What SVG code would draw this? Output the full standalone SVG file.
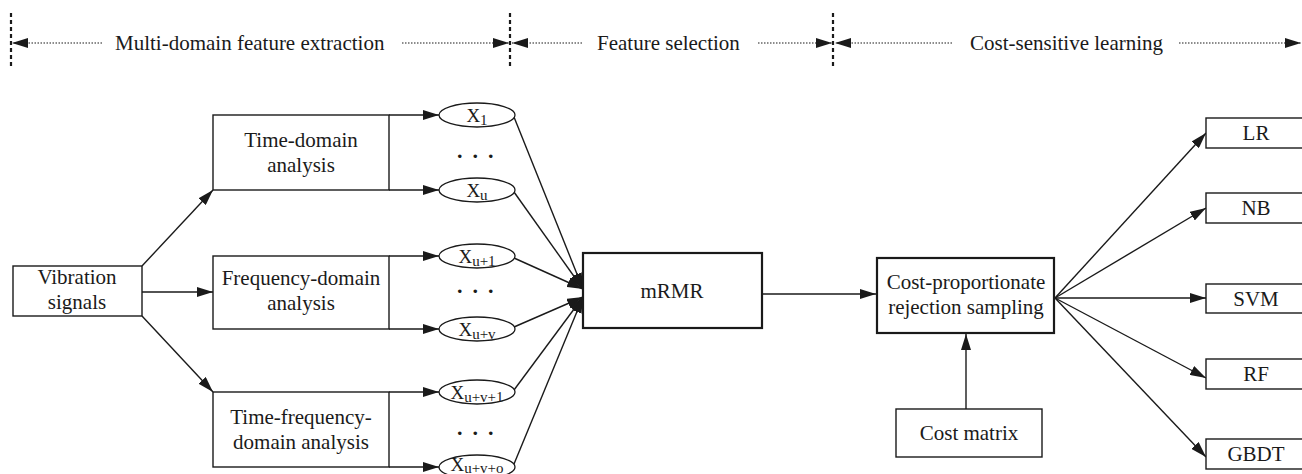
<svg xmlns="http://www.w3.org/2000/svg" width="1302" height="474" viewBox="0 0 1302 474">
<defs>
<marker id="arr" markerUnits="userSpaceOnUse" markerWidth="16" markerHeight="10" viewBox="0 0 16 10" refX="16" refY="5" orient="auto"><path d="M0,0 L16,5 L0,10 z" fill="#1a1a1a"/></marker>
<style>
text{font-family:"Liberation Serif","DejaVu Serif",serif;fill:#1a1a1a;font-size:21px}
.c{text-anchor:middle}
.box{fill:#fff;stroke:#1a1a1a;stroke-width:1.4}
.bold{fill:#fff;stroke:#1a1a1a;stroke-width:2.2}
.ell{fill:#fff;stroke:#1a1a1a;stroke-width:1.3}
.arrow{stroke:#1a1a1a;stroke-width:1.4;fill:none;marker-end:url(#arr)}
.dot{stroke:#1a1a1a;stroke-width:1.2;stroke-dasharray:1.5 1.5;fill:none;marker-end:url(#arr)}
.dash{stroke:#1a1a1a;stroke-width:2.2;stroke-dasharray:4 3;fill:none}
.x{font-size:19px}
.sub{font-size:15px}
.dots{font-size:22px;font-weight:bold;letter-spacing:10px}
</style>
</defs>

<g id="header">
<line class="dash" x1="11" y1="13" x2="11" y2="67"/>
<line class="dash" x1="510" y1="13" x2="510" y2="67"/>
<line class="dash" x1="833" y1="13" x2="833" y2="67"/>
<line class="dot" x1="102" y1="43" x2="12" y2="43"/>
<text x="115" y="50">Multi-domain feature extraction</text>
<line class="dot" x1="402" y1="43" x2="509" y2="43"/>
<line class="dot" x1="582" y1="43" x2="512" y2="43"/>
<text x="597" y="50">Feature selection</text>
<line class="dot" x1="758" y1="43" x2="832" y2="43"/>
<line class="dot" x1="952" y1="43" x2="835" y2="43"/>
<text x="970" y="50">Cost-sensitive learning</text>
<line class="dot" x1="1179" y1="43" x2="1301" y2="43"/>
</g>

<g id="connectors">
<line class="arrow" x1="142" y1="266" x2="213" y2="190"/>
<line class="arrow" x1="142" y1="292" x2="213" y2="292"/>
<line class="arrow" x1="142" y1="316" x2="213" y2="392"/>
<line class="arrow" x1="389" y1="115" x2="439" y2="115"/>
<line class="arrow" x1="389" y1="190" x2="439" y2="190"/>
<line class="arrow" x1="389" y1="256" x2="439" y2="256"/>
<line class="arrow" x1="389" y1="329" x2="439" y2="329"/>
<line class="arrow" x1="389" y1="392" x2="439" y2="392"/>
<line class="arrow" x1="389" y1="467" x2="439" y2="467"/>
<line class="arrow" x1="514" y1="117" x2="583" y2="289"/>
<line class="arrow" x1="514" y1="192" x2="583" y2="289"/>
<line class="arrow" x1="514" y1="258" x2="583" y2="289"/>
<line class="arrow" x1="514" y1="327" x2="583" y2="297"/>
<line class="arrow" x1="514" y1="390" x2="583" y2="297"/>
<line class="arrow" x1="514" y1="464" x2="583" y2="297"/>
<line class="arrow" x1="762" y1="294" x2="876" y2="294"/>
<line class="arrow" x1="966" y1="409" x2="966" y2="334"/>
<line class="arrow" x1="1055" y1="298" x2="1206" y2="133"/>
<line class="arrow" x1="1055" y1="298" x2="1206" y2="208"/>
<line class="arrow" x1="1055" y1="298" x2="1206" y2="298"/>
<line class="arrow" x1="1055" y1="298" x2="1206" y2="378"/>
<line class="arrow" x1="1055" y1="298" x2="1206" y2="457"/>
</g>

<g id="vibration">
<rect class="box" x="13" y="266" width="129" height="50"/>
<text class="c" x="77" y="284">Vibration</text>
<text class="c" x="77" y="309">signals</text>
</g>

<g id="time-domain">
<rect class="box" x="213" y="115" width="176" height="75"/>
<text class="c" x="301" y="147">Time-domain</text>
<text class="c" x="301" y="172">analysis</text>
</g>

<g id="frequency-domain">
<rect class="box" x="213" y="256" width="176" height="73"/>
<text class="c" x="301" y="285">Frequency-domain</text>
<text class="c" x="301" y="310">analysis</text>
</g>

<g id="time-frequency-domain">
<rect class="box" x="213" y="392" width="176" height="75"/>
<text class="c" x="301" y="424">Time-frequency-</text>
<text class="c" x="301" y="449">domain analysis</text>
</g>

<g id="x1">
<ellipse class="ell" cx="477" cy="115" rx="38" ry="12"/>
<text class="c x" x="477" y="122">X<tspan class="sub" dy="3">1</tspan></text>
</g>
<g id="dots1"><text class="dots" x="457" y="158">...</text></g>
<g id="xu">
<ellipse class="ell" cx="477" cy="190" rx="38" ry="12"/>
<text class="c x" x="477" y="197">X<tspan class="sub" dy="3">u</tspan></text>
</g>
<g id="xu1">
<ellipse class="ell" cx="477" cy="256" rx="38" ry="12"/>
<text class="c x" x="477" y="263">X<tspan class="sub" dy="3">u+1</tspan></text>
</g>
<g id="dots2"><text class="dots" x="457" y="293">...</text></g>
<g id="xuv">
<ellipse class="ell" cx="477" cy="329" rx="38" ry="12"/>
<text class="c x" x="477" y="336">X<tspan class="sub" dy="3">u+v</tspan></text>
</g>
<g id="xuv1">
<ellipse class="ell" cx="477" cy="392" rx="38" ry="12"/>
<text class="c x" x="477" y="399">X<tspan class="sub" dy="3">u+v+1</tspan></text>
</g>
<g id="dots3"><text class="dots" x="457" y="435">...</text></g>
<g id="xuvo">
<ellipse class="ell" cx="477" cy="467" rx="38" ry="12"/>
<text class="c x" x="477" y="471">X<tspan class="sub" dy="2">u+v+o</tspan></text>
</g>

<g id="mrmr">
<rect class="bold" x="583" y="253" width="179" height="75"/>
<text class="c" x="672" y="298">mRMR</text>
</g>

<g id="cost-sampling">
<rect class="bold" x="877" y="258" width="177" height="75"/>
<text class="c" x="966" y="289">Cost-proportionate</text>
<text class="c" x="966" y="314">rejection sampling</text>
</g>

<g id="cost-matrix">
<rect class="box" x="896" y="409" width="146" height="48"/>
<text class="c" x="969" y="440">Cost matrix</text>
</g>

<g id="lr"><rect class="box" x="1206" y="118" width="110" height="30"/><text class="c" x="1256" y="140">LR</text></g>
<g id="nb"><rect class="box" x="1206" y="193" width="110" height="30"/><text class="c" x="1256" y="215">NB</text></g>
<g id="svm"><rect class="box" x="1206" y="284" width="110" height="29"/><text class="c" x="1256" y="306">SVM</text></g>
<g id="rf"><rect class="box" x="1206" y="359" width="110" height="30"/><text class="c" x="1256" y="381">RF</text></g>
<g id="gbdt"><rect class="box" x="1206" y="439" width="110" height="30"/><text class="c" x="1256" y="461">GBDT</text></g>
</svg>
